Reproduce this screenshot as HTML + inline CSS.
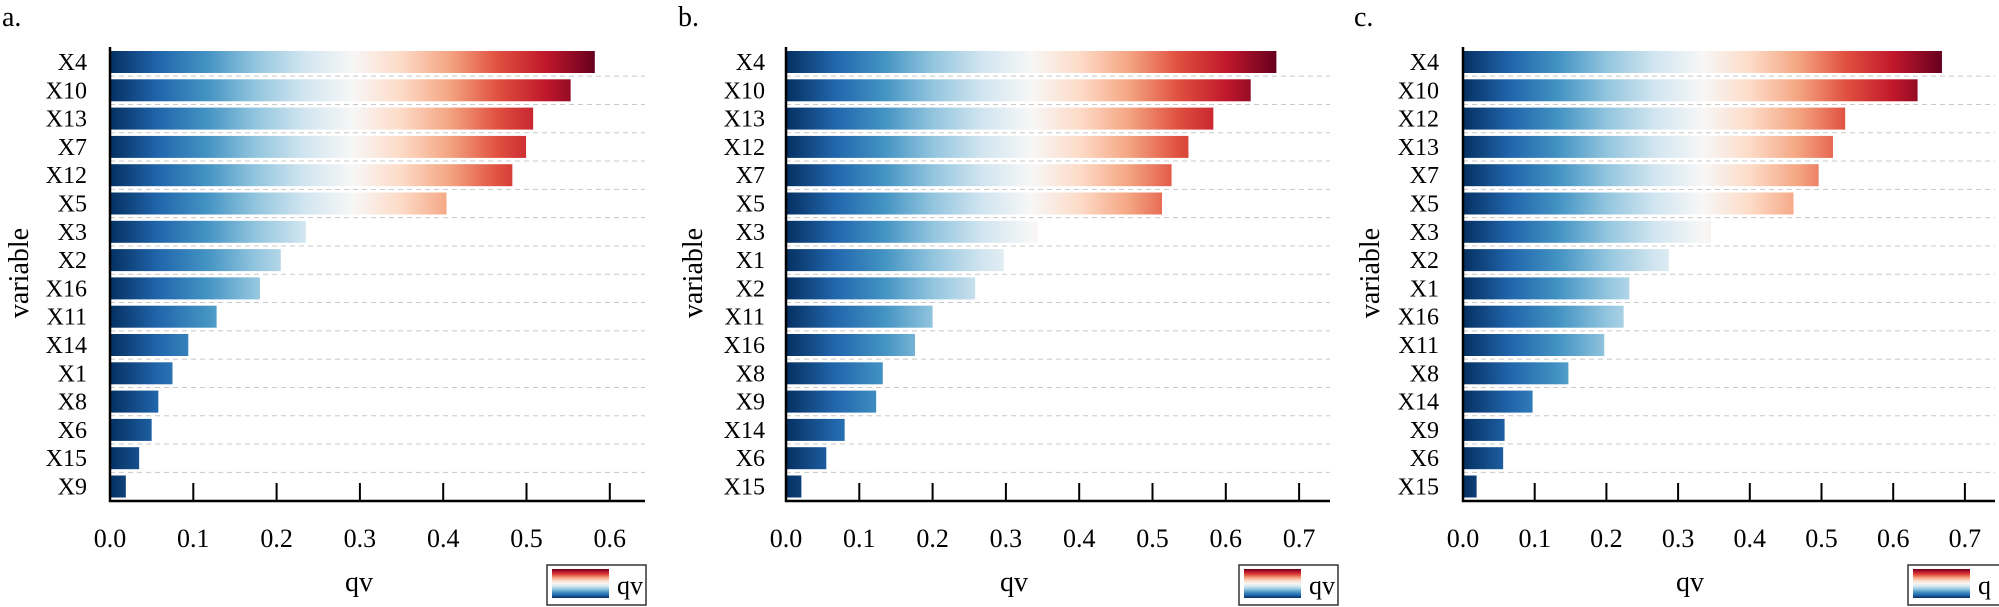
<!DOCTYPE html>
<html><head><meta charset="utf-8"><style>
html,body{margin:0;padding:0;background:#fff;}
svg{display:block;font-family:"Liberation Serif",serif;}
</style></head><body>
<svg id="chart" width="1999" height="607" xmlns="http://www.w3.org/2000/svg">
<defs>
<linearGradient id="legGrad" x1="0" y1="1" x2="0" y2="0">
<stop offset="0" stop-color="#053061"/><stop offset="0.1" stop-color="#2166ac"/><stop offset="0.2" stop-color="#4393c3"/><stop offset="0.3" stop-color="#92c5de"/><stop offset="0.4" stop-color="#d1e5f0"/><stop offset="0.5" stop-color="#f7f7f7"/><stop offset="0.6" stop-color="#fddbc7"/><stop offset="0.7" stop-color="#f4a582"/><stop offset="0.8" stop-color="#e0503f"/><stop offset="0.9" stop-color="#c0172b"/><stop offset="1" stop-color="#67001f"/>
</linearGradient>
</defs>
</svg>
<script>
// Panel a
const catsA = ["X4","X10","X13","X7","X12","X5","X3","X2","X16","X11","X14","X1","X8","X6","X15","X9"];
const valsA = [0.582,0.553,0.508,0.4995,0.483,0.404,0.235,0.205,0.180,0.128,0.094,0.075,0.058,0.050,0.035,0.019];
const ticksA = ["0.0","0.1","0.2","0.3","0.4","0.5","0.6"];
// Panel b
const catsB = ["X4","X10","X13","X12","X7","X5","X3","X1","X2","X11","X16","X8","X9","X14","X6","X15"];
const valsB = [0.669,0.634,0.583,0.549,0.526,0.513,0.343,0.297,0.258,0.200,0.176,0.132,0.123,0.080,0.055,0.021];
const ticksB = ["0.0","0.1","0.2","0.3","0.4","0.5","0.6","0.7"];
// Panel c
const catsC = ["X4","X10","X12","X13","X7","X5","X3","X2","X1","X16","X11","X8","X14","X9","X6","X15"];
const valsC = [0.668,0.634,0.533,0.516,0.496,0.461,0.346,0.287,0.232,0.224,0.197,0.147,0.097,0.058,0.056,0.019];
const ticksC = ["0.0","0.1","0.2","0.3","0.4","0.5","0.6","0.7"];

const NS="http://www.w3.org/2000/svg";
const svg=document.getElementById('chart');
const stops=["#053061","#2166ac","#4393c3","#92c5de","#d1e5f0","#f7f7f7","#fddbc7","#f4a582","#e0503f","#c0172b","#67001f"];
function mk(tag,attrs,parent){const e=document.createElementNS(NS,tag);for(const k in attrs)e.setAttribute(k,attrs[k]);(parent||svg).appendChild(e);return e;}

function panel(id,letter,cats,vals,ticks,o){
  const g=mk('g',{});
  
  
  const x=v=>o.x0+v*o.unit;
  const top=51,pitch=28.3,bh=22,axisY=501;
  const y=i=>top+i*pitch;
  const vmax=Math.max(...vals);
  const defs=svg.querySelector('defs');
  const lg=mk('linearGradient',{id:'grad'+id,gradientUnits:'userSpaceOnUse',x1:x(0),y1:0,x2:x(vmax),y2:0},defs);
  stops.forEach((c,i)=>mk('stop',{offset:i/(stops.length-1),'stop-color':c},lg));
  // panel letter
  const t=mk('text',{x:o.lx,y:26,'font-size':28,fill:'#000'},g);t.textContent=letter;
  
  
  // grid dashes
  for(let i=0;i<cats.length;i++){
    const gy=y(i)+bh+(pitch-bh)/2;
    const l=mk('line',{x1:x(0),x2:o.xend,y1:gy,y2:gy,stroke:'#c8c8c8','stroke-width':1,'stroke-dasharray':'5,4'},g);
    
    
  }
  // bars
  cats.forEach((c,i)=>{
    const r=mk('rect',{x:x(0),y:y(i),width:x(vals[i])-x(0),height:bh,fill:'url(#grad'+id+')'},g);
    
    
    const lb=mk('text',{x:o.labelRight,y:y(i)+bh/2+8,'font-size':24,'text-anchor':'end',fill:'#000'},g);
    lb.textContent=c;
    
    
  });
  // axes
  const ya=mk('line',{x1:x(0),x2:x(0),y1:47,y2:axisY+1,stroke:'#000','stroke-width':2.5},g);
  
  
  const xa=mk('line',{x1:x(0)-1,x2:o.xend,y1:axisY,y2:axisY,stroke:'#000','stroke-width':2.5},g);
  
  
  ticks.forEach((tk,i)=>{
    const v=parseFloat(tk);
    if(i>0){const tl=mk('line',{x1:x(v),x2:x(v),y1:axisY-18,y2:axisY,stroke:'#000','stroke-width':2},g);
      
      }
    const tt=mk('text',{x:x(v),y:547,'font-size':26,'text-anchor':'middle',fill:'#000'},g);
    tt.textContent=tk;
    
    
  });
  const xt=mk('text',{x:o.qx,y:591,'font-size':28,'text-anchor':'middle',fill:'#000'},g);xt.textContent='qv';
  
  
  const yt=mk('text',{x:0,y:0,'font-size':28,'text-anchor':'middle',fill:'#000',transform:'translate('+(o.vx+9)+',273) rotate(-90)'},g);yt.textContent='variable';
  
  
  // legend
  const lgG=mk('g',{},g);
  
  
  mk('rect',{x:o.legX,y:565,width:o.legW,height:40,fill:'#fff',stroke:'#333','stroke-width':1.5},lgG);
  mk('rect',{x:o.legX+5,y:569,width:57,height:29,fill:'url(#legGrad)'},lgG);
  const lt=mk('text',{x:o.legX+70,y:594,'font-size':26,fill:'#000'},lgG);lt.textContent=o.legText;
  
  
}
panel('a','a.',catsA,valsA,ticksA,{x0:110,unit:833,xend:645,labelRight:87,lx:2,vx:19,qx:359,legX:547,legW:99,legText:'qv'});
panel('b','b.',catsB,valsB,ticksB,{x0:786,unit:733,xend:1330,labelRight:765,lx:678,vx:693,qx:1014,legX:1239,legW:99,legText:'qv'});
panel('c','c.',catsC,valsC,ticksC,{x0:1463,unit:717,xend:1995,labelRight:1439,lx:1354,vx:1370,qx:1690,legX:1908,legW:95,legText:'q'});
</script>
</body></html>
